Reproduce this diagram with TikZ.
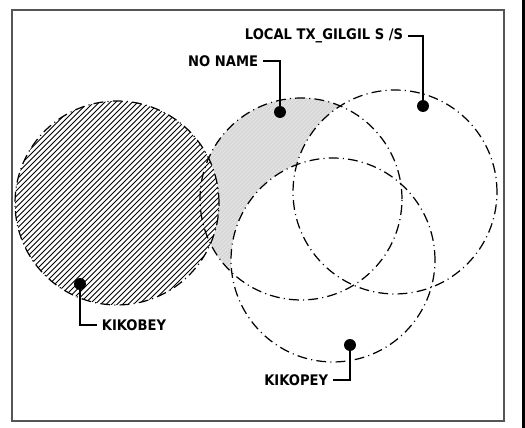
\documentclass[tikz,border=0pt]{standalone}
\usepackage{fontspec}
\usepackage{tikz}
\usetikzlibrary{positioning,calc}
\newfontfamily\tagfont{DejaVu Sans Condensed}
\definecolor{framegray}{RGB}{85,85,85}
\definecolor{shadegray}{RGB}{216,216,216}
\definecolor{shadeline}{RGB}{232,232,232}
\tikzset{
    ring/.style={draw=black, line width=0.7pt, dash pattern=on 5.6pt off 2.4pt on 0.6pt off 2.4pt},
    hatch/.style={draw=black, line width=0.5pt},
    sheen/.style={draw=shadeline, line width=0.35pt},
    dot/.style={circle, fill=black, inner sep=0pt, minimum size=6.8pt},
    tag/.style={font=\tagfont\bfseries\fontsize{8.3}{9}\selectfont, inner sep=2.6pt},
    leader/.style={draw=black, line width=0.75pt},
    frame/.style={draw=framegray, line width=1.1pt}
}

\begin{document}
\begin{tikzpicture}[x=0.02cm, y=-0.02cm]
\useasboundingbox (0,0) rectangle (525,428);
\draw[frame] (12,10) rectangle (504,421);
\fill[black] (522,0) rectangle (525,428);
% circle centres
\coordinate (kb) at (117,203);
\coordinate (nn) at (301,199);
\coordinate (lc) at (395,192);
\coordinate (kp) at (333,260);
% shaded part of no name
\begin{scope}
    \clip (nn) circle[radius=2.02cm];
    \fill[shadegray] (nn) circle[radius=2.02cm];
    \foreach \s in {356,360,...,648}
        \draw[sheen] (\s-400,400) -- (\s,0);
    \fill[white] (lc) circle[radius=2.04cm];
    \fill[white] (kp) circle[radius=2.04cm];
\end{scope}
% hatched kikobey
\begin{scope}
    \clip (kb) circle[radius=2.04cm];
    \fill[white] (kb) circle[radius=2.04cm];
    \foreach \s in {174,179.5,...,469}
        \draw[hatch] (\s-400,400) -- (\s,0);
\end{scope}
% outlines
\draw[ring] (kb) circle[radius=2.04cm];
\draw[ring] (nn) circle[radius=2.02cm];
\draw[ring] (lc) circle[radius=2.04cm];
\draw[ring] (kp) circle[radius=2.04cm];
% labels
\node[dot] (nnDot) at (280,112) {};
\node[dot] (lcDot) at (423,106) {};
\node[dot] (kbDot) at (80,284) {};
\node[dot] (kpDot) at (350,345) {};
\node[tag, anchor=east] (nnTag) at (263,61) {NO NAME};
\node[tag, anchor=east] (lcTag) at (408,36) {LOCAL TX\_GILGIL S /S};
\node[tag, anchor=west] (kbTag) at (97,325) {KIKOBEY};
\node[tag, anchor=east] (kpTag) at (333,380) {KIKOPEY};
\draw[leader] (nnDot) |- (nnTag.east);
\draw[leader] (lcDot) |- (lcTag.east);
\draw[leader] (kbDot) |- (kbTag.west);
\draw[leader] (kpDot) |- (kpTag.east);
\end{tikzpicture}
\end{document}
